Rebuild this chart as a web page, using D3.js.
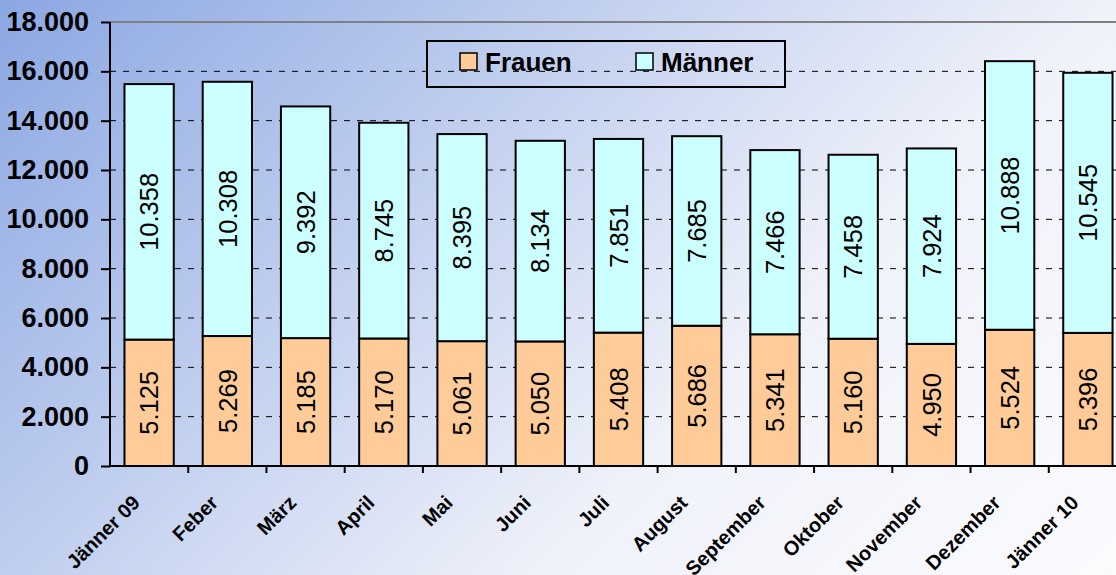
<!DOCTYPE html>
<html><head><meta charset="utf-8">
<script src="https://cdn.jsdelivr.net/npm/d3@7"></script>
<style>html,body{margin:0;padding:0;overflow:hidden;background:#fff}svg{display:block}</style>
</head><body>
<svg id="c" width="1116" height="575"></svg>
<script>
const categories = ["Jänner 09","Feber","März","April","Mai","Juni","Juli","August","September","Oktober","November","Dezember","Jänner 10"];
const frauen = [5125,5269,5185,5170,5061,5050,5408,5686,5341,5160,4950,5524,5396];
const maenner = [10358,10308,9392,8745,8395,8134,7851,7685,7466,7458,7924,10888,10545];
const yTicks = [0,2000,4000,6000,8000,10000,12000,14000,16000,18000];
const seriesNames = ["Frauen","Männer"];
const seriesColors = ["#ffcc99","#ccffff"];

const W = 1116, H = 575;
const FONT = "Liberation Sans, Arial, sans-serif";
const svg = d3.select("#c");
const loc = d3.formatLocale({decimal:",", thousands:".", grouping:[3], currency:["","€"]});
const fmt = loc.format(",d");

// background gradient
const defs = svg.append("defs");
const g = defs.append("linearGradient").attr("id","bg").attr("gradientUnits","userSpaceOnUse")
  .attr("x1",0).attr("y1",0).attr("x2",845).attr("y2",845);
g.append("stop").attr("offset","0").attr("stop-color","#8ba7e2");
g.append("stop").attr("offset","0.66").attr("stop-color","#f0f2fa");
g.append("stop").attr("offset","1").attr("stop-color","#fbfbfe");
svg.append("rect").attr("width",W).attr("height",H).attr("fill","url(#bg)");

const x = d3.scaleBand().domain(categories).range([110,1127]).padding(0);
const y = d3.scaleLinear().domain([0,18000]).range([466,22]);
const barW = x.bandwidth()*0.63;

// gridlines
svg.append("g").selectAll("line").data(yTicks.filter(t=>t>0 && t<18000)).join("line")
  .attr("x1",110).attr("x2",W).attr("y1",d=>y(d)).attr("y2",d=>y(d))
  .attr("stroke","#000").attr("stroke-width",1).attr("stroke-dasharray","6,7");
svg.append("line").attr("x1",110).attr("x2",W).attr("y1",y(18000)).attr("y2",y(18000))
  .attr("stroke","#808080").attr("stroke-width",2);

// bars
const stackData = categories.map((c,i)=>({c, f:frauen[i], m:maenner[i]}));
const bars = svg.append("g");
stackData.forEach(d=>{
  const cx = x(d.c)+x.bandwidth()/2;
  bars.append("rect").attr("x",cx-barW/2).attr("width",barW)
    .attr("y",y(d.f)).attr("height",y(0)-y(d.f))
    .attr("fill",seriesColors[0]).attr("stroke","#000").attr("stroke-width",2);
  bars.append("rect").attr("x",cx-barW/2).attr("width",barW)
    .attr("y",y(d.f+d.m)).attr("height",y(d.f)-y(d.f+d.m))
    .attr("fill",seriesColors[1]).attr("stroke","#000").attr("stroke-width",2);
  [[0,d.f],[d.f,d.f+d.m]].forEach((s,k)=>{
    const my = (y(s[0])+y(s[1]))/2;
    bars.append("text").attr("transform",`translate(${cx},${my}) rotate(-90)`)
      .attr("text-anchor","middle").attr("dy","0.36em")
      .attr("font-family",FONT).attr("font-size",25.5)
      .attr("fill","#000").text(fmt(k===0?d.f:d.m));
  });
});

// y axis
const yAxis = svg.append("g").attr("transform","translate(110,0)")
  .call(d3.axisLeft(y).tickValues(yTicks).tickSize(9).tickPadding(12).tickFormat(fmt));
yAxis.select(".domain").attr("stroke","#000").attr("stroke-width",2).attr("d",`M0,${y(18000)}V${y(0)}`);
yAxis.selectAll(".tick line").attr("stroke","#000").attr("stroke-width",2);
yAxis.selectAll(".tick text").attr("font-family",FONT)
  .attr("font-size",27).attr("font-weight","bold").attr("fill","#000");

// x axis
svg.append("line").attr("x1",110).attr("x2",W).attr("y1",y(0)).attr("y2",y(0))
  .attr("stroke","#000").attr("stroke-width",2);
svg.append("g").selectAll("line").data(categories).join("line")
  .attr("x1",d=>x(d)+x.bandwidth()).attr("x2",d=>x(d)+x.bandwidth())
  .attr("y1",y(0)).attr("y2",y(0)+7).attr("stroke","#000").attr("stroke-width",2);
svg.append("g").selectAll("text").data(categories).join("text")
  .attr("transform",d=>`translate(${x(d)+x.bandwidth()/2-8},${y(0)+38}) rotate(-45)`)
  .attr("text-anchor","end")
  .attr("font-family",FONT).attr("font-size",20)
  .attr("font-weight","bold").attr("fill","#000").text(d=>d);

// legend
const lg = svg.append("g");
lg.append("rect").attr("x",427).attr("y",41).attr("width",358).attr("height",46)
  .attr("fill","none").attr("stroke","#000").attr("stroke-width",2);
const lx = [460,636];
seriesNames.forEach((n,i)=>{
  lg.append("rect").attr("x",lx[i]).attr("y",53).attr("width",17).attr("height",17)
    .attr("fill",seriesColors[i]).attr("stroke","#000").attr("stroke-width",1.5);
  lg.append("text").attr("x",lx[i]+25).attr("y",71)
    .attr("font-family",FONT).attr("font-size",26)
    .attr("font-weight","bold").attr("fill","#000").text(n);
});
</script>
</body></html>
